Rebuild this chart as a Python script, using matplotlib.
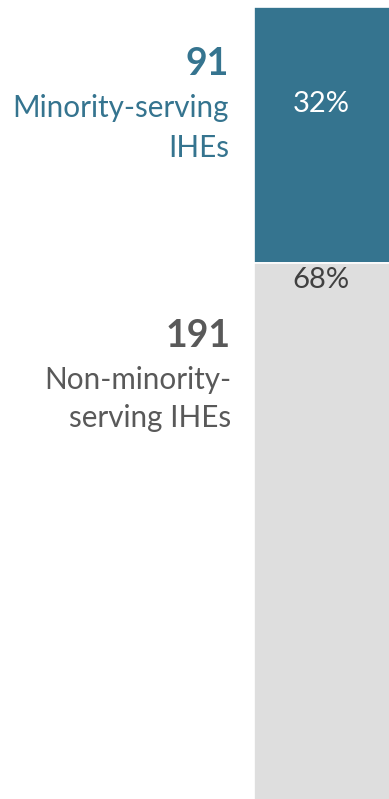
import matplotlib.pyplot as plt

# counts of IHEs by group
groups = ["Minority-serving IHEs", "Non-minority-serving IHEs"]
counts = [91, 191]
label_lines = [["Minority-serving", "IHEs"], ["Non-minority-", "serving IHEs"]]
colors = ["#35748f", "#dedede"]
pct_colors = ["white", "#404040"]
label_colors = ["#35748f", "#595959"]

total = sum(counts)
W, H = 389, 799

fig = plt.figure(figsize=(W / 100, H / 100), dpi=100)
plt.rcParams['font.family'] = ['Lato', 'DejaVu Sans']

# bar axes on the right (extends past the right/bottom edge like the original crop)
x0 = 253.5
ax = fig.add_axes([x0 / W, -2 / H, (W + 10 - x0) / W, 1 - 5 / H])
bottom = 0
for c, col in zip(counts, colors):
    ax.bar(0, c, bottom=bottom, width=1, color=col, edgecolor="white", linewidth=1.2)
    bottom += c
ax.set_xlim(-0.5, 0.5)
ax.set_ylim(total, 0)
ax.axis('off')

# percent labels inside bar
pct = [round(100 * c / total) for c in counts]
fig.text((x0 + 67.5) / W, 1 - 112 / H, f"{pct[0]}%", color=pct_colors[0], fontsize=21,
         ha="center", va="baseline")
fig.text((x0 + 67.5) / W, 1 - 288 / H, f"{pct[1]}%", color=pct_colors[1], fontsize=21,
         ha="center", va="baseline")

# left-hand labels (baselines in pixels from top)
def ftext(x, y, s, **kw):
    fig.text(x / W, 1 - y / H, s, ha="right", va="baseline", **kw)

ftext(229, 75, str(counts[0]), color=label_colors[0], fontsize=27, fontweight="bold")
ftext(229, 117, label_lines[0][0], color=label_colors[0], fontsize=21.3)
ftext(229, 157, label_lines[0][1], color=label_colors[0], fontsize=21.3)

ftext(231, 347, str(counts[1]), color=label_colors[1], fontsize=27, fontweight="bold")
ftext(231, 389, label_lines[1][0], color=label_colors[1], fontsize=21.3)
ftext(231, 427, label_lines[1][1], color=label_colors[1], fontsize=21.3)

fig.savefig("out.png", dpi=100)
